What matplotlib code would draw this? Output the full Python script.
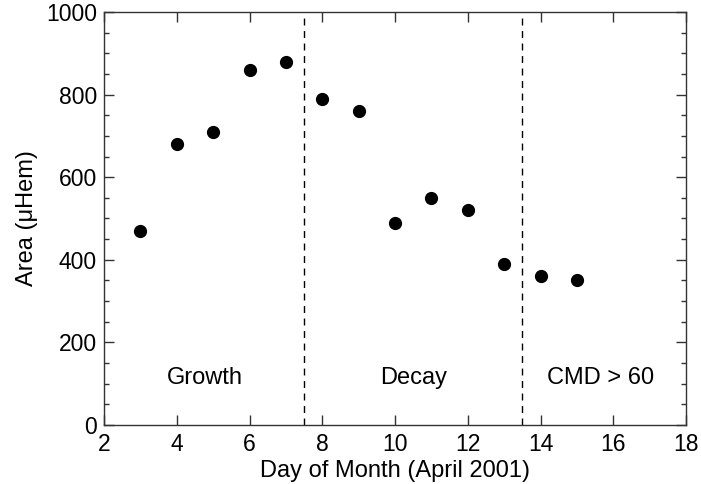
import matplotlib
matplotlib.use("Agg")
import matplotlib.pyplot as plt
from matplotlib.ticker import MultipleLocator

plt.rcParams['font.family'] = ['Liberation Sans', 'DejaVu Sans']

days = [3, 4, 5, 6, 7, 8, 9, 10, 11, 12, 13, 14, 15]
area = [470, 680, 710, 860, 880, 790, 760, 490, 550, 520, 390, 360, 350]
phase_bounds = [7.5, 13.5]
phase_labels = ["Growth", "Decay", "CMD > 60"]
phase_label_x = [4.77, 10.5, 15.65]

fig = plt.figure(figsize=(7.01, 4.84), dpi=100)
ax = fig.add_axes([104 / 701, 59 / 484, 582 / 701, 413 / 484])

ax.plot(days, area, 'o', color='black', markersize=8.5)
for b in phase_bounds:
    ax.axvline(b, color='black', linestyle=(0, (5, 4)), linewidth=1)
for lab, x in zip(phase_labels, phase_label_x):
    ax.text(x, 115, lab, ha='center', va='center', fontsize=17)

ax.set_xlim(2, 18)
ax.set_ylim(0, 1000)
ax.xaxis.set_major_locator(MultipleLocator(2))
ax.yaxis.set_major_locator(MultipleLocator(200))
ax.yaxis.set_minor_locator(MultipleLocator(50))
ax.tick_params(which='both', direction='in', top=True, right=True, labelsize=16.5, width=1, color='#333333')
ax.tick_params(which='major', length=7)
ax.tick_params(which='minor', length=3.5)
ax.tick_params(axis='x', pad=5.5)
ax.tick_params(axis='y', pad=5)
for s in ax.spines.values():
    s.set_linewidth(1)
    s.set_color('#333333')

ax.set_xlabel("Day of Month (April 2001)", fontsize=17, labelpad=3)
ax.set_ylabel("Area (\u03bcHem)", fontsize=17, labelpad=6)

fig.savefig("out.png", dpi=100)
